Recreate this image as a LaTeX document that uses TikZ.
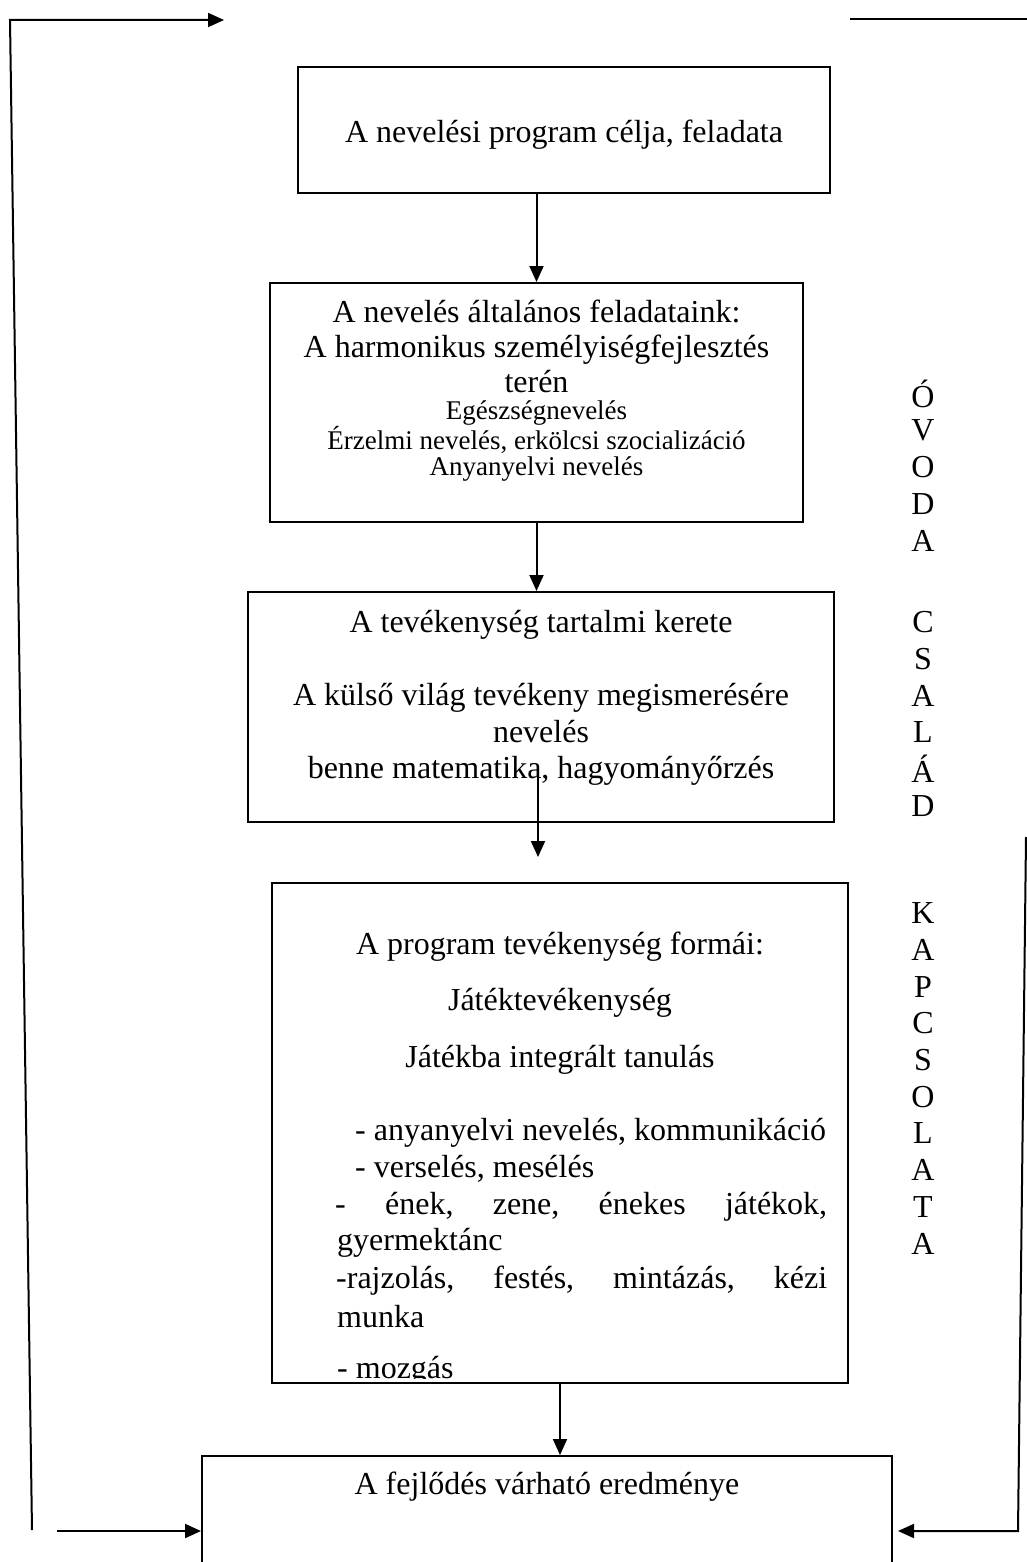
\documentclass[tikz,border=0pt]{standalone}
\usepackage{fontspec}
\setmainfont{Liberation Serif}
\usetikzlibrary{arrows.meta,positioning}

\begin{document}
\begin{tikzpicture}[
    x=1pt, y=-1pt,
    font=\fontsize{32}{36.5}\selectfont,
    box/.style={draw, line width=2pt, inner sep=0pt},
    txt/.style={align=center, inner sep=0pt},
    small/.style={align=center, inner sep=0pt, font=\fontsize{27}{26.5}\selectfont},
    letter/.style={inner sep=0pt},
    arrow/.style={-{Triangle[length=16pt,width=14pt]}, line width=2pt},
    plain/.style={line width=2pt}
]
\useasboundingbox (0,0) rectangle (1027,1562);

% boxes
\node[box, minimum width=532pt, minimum height=126pt] (goal) at (564,130) {};
\node[txt] (goaltxt) at (564,135) {A nevelési program célja, feladata};

\node[box, minimum width=533pt, minimum height=239pt] (tasks) at (536.5,402.5) {};
\node[txt, font=\fontsize{32}{35}\selectfont] (taskstxt) at (536.5,346) {A nevelés általános feladataink:\\ A harmonikus személyiségfejlesztés\\ terén};
\node[small] (tasksub) at (536.5,441) {Egészségnevelés\\ Érzelmi nevelés, erkölcsi szocializáció\\ Anyanyelvi nevelés};

\node[box, minimum width=586pt, minimum height=230pt] (frame) at (541,707) {};
\node[txt] (frametxt) at (541,698) {A tevékenység tartalmi kerete\\[36.5pt] A külső világ tevékeny megismerésére\\ nevelés\\ benne matematika, hagyományőrzés};

\node[box, minimum width=576pt, minimum height=500pt] (forms) at (560,1133) {};
\node[txt] (formstxt) at (560,1003) {A program tevékenység formái:\\[20pt] Játéktevékenység\\[20pt] Játékba integrált tanulás};
\node[txt, anchor=west] (speech) at (355,1133) {- anyanyelvi nevelés, kommunikáció};
\node[txt, anchor=west] (verse) at (355,1169) {- verselés, mesélés};
\node[txt, anchor=west] (sing) at (335,1207) {\makebox[492pt][l]{-\hfill ének,\hfill zene,\hfill énekes\hfill játékok,}};
\node[txt, anchor=west] (dance) at (337,1243) {gyermektánc};
\node[txt, anchor=west] (draw) at (336,1281) {\makebox[491pt][l]{-rajzolás,\hfill festés,\hfill mintázás,\hfill kézi}};
\node[txt, anchor=west] (craft) at (337,1317) {munka};
\begin{scope}
  \clip (forms.north west) rectangle ([yshift=6pt]forms.south east);
  \node[txt, anchor=base west] (move) at (337,1378) {- mozgás};
\end{scope}

\node[box, minimum width=690pt, minimum height=130pt, anchor=north] (result) at (547,1455) {};
\node[txt] (resulttxt) at (547,1487) {A fejlődés várható eredménye};

% vertical label
\foreach \ch [count=\i] in {Ó,V,O,D,A}
  \node[letter] (ovoda\i) at (923,357.3+36.7*\i) {\ch};
\foreach \ch [count=\i] in {C,S,A,L,Á,D}
  \node[letter] (csalad\i) at (923,585.5+36.7*\i) {\ch};
\foreach \ch [count=\i] in {K,A,P,C,S,O,L,A,T,A}
  \node[letter] (kapcs\i) at (923,876.5+36.7*\i) {\ch};

% connectors
\coordinate (ltop) at (10,20);
\coordinate (ltip) at (224,20);
\coordinate (lbot) at (32,1530);
\coordinate (lin) at (57,1531);
\coordinate (rtop) at (850,19);
\coordinate (redge) at (1027,19);
\coordinate (rvtop) at (1026,837);
\coordinate (rvbot) at (1018,1531);
\coordinate (framearrow) at (538,778);
\coordinate (formsin) at (538,857);

\draw[arrow] (tasks.north |- goal.south) -- (tasks.north);
\draw[arrow] (tasks.south) -- (frame.north -| tasks.south);
\draw[arrow] (framearrow) -- (formsin);
\draw[arrow] (forms.south) -- (result.north -| forms.south);

\draw[arrow] (lbot) -- (ltop) -- (ltip);
\draw[arrow] (lin) -- (lin -| result.west);
\draw[plain] (rtop) -- (redge);
\draw[arrow, shorten >=5pt] (rvtop) -- (rvbot) -- (rvbot -| result.east);
\end{tikzpicture}
\end{document}
